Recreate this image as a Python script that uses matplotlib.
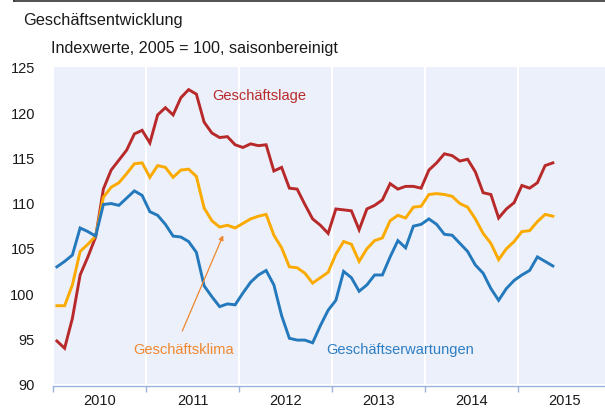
import matplotlib
matplotlib.use("Agg")
import matplotlib.pyplot as plt
import numpy as np
from matplotlib.lines import Line2D

plt.rcParams['font.family'] = ['Liberation Sans', 'DejaVu Sans']

# Monthly values, Jan 2010 .. May 2015
start_year = 2010
years = [2010, 2011, 2012, 2013, 2014, 2015]
year_labels = ['2010', '2011', '2012', '2013', '2014', '2015']
yticks = [90, 95, 100, 105, 110, 115, 120, 125]

geschaeftslage = [
    94.7, 93.9, 97.2, 102.0, 104.0, 106.2, 111.5, 113.6, 114.7, 115.8, 117.6, 118.0,
    116.6, 119.7, 120.5, 119.7, 121.6, 122.5, 122.0, 118.9, 117.7, 117.2, 117.3, 116.4,
    116.1, 116.5, 116.3, 116.4, 113.5, 113.9, 111.6, 111.5, 109.8, 108.2, 107.5, 106.6,
    109.3, 109.2, 109.1, 107.0, 109.3, 109.7, 110.3, 112.1, 111.5, 111.8, 111.8, 111.6,
    113.6, 114.4, 115.4, 115.2, 114.6, 114.8, 113.4, 111.1, 110.9, 108.3, 109.3, 110.0,
    111.9, 111.6, 112.2, 114.1, 114.4,
]
geschaeftsklima = [
    98.6, 98.6, 100.9, 104.6, 105.4, 106.3, 110.6, 111.7, 112.2, 113.2, 114.3, 114.4,
    112.8, 114.1, 113.9, 112.8, 113.6, 113.7, 112.9, 109.4, 108.0, 107.3, 107.5, 107.2,
    107.7, 108.2, 108.5, 108.7, 106.4, 105.0, 102.9, 102.8, 102.2, 101.1, 101.7, 102.3,
    104.3, 105.7, 105.4, 103.5, 104.9, 105.8, 106.1, 108.0, 108.6, 108.3, 109.5, 109.6,
    110.9, 111.0, 110.9, 110.7, 109.9, 109.5, 108.2, 106.6, 105.5, 103.7, 104.9, 105.7,
    106.8, 106.9, 107.9, 108.7, 108.5,
]
geschaeftserwartungen = [
    102.9, 103.5, 104.2, 107.2, 106.8, 106.3, 109.8, 109.9, 109.7, 110.5, 111.3, 110.8,
    109.0, 108.6, 107.6, 106.3, 106.2, 105.7, 104.5, 100.8, 99.6, 98.5, 98.8, 98.7,
    100.0, 101.2, 102.0, 102.5, 100.9, 97.5, 95.0, 94.8, 94.8, 94.5, 96.4, 98.1,
    99.2, 102.4, 101.7, 100.2, 100.9, 102.0, 102.0, 104.0, 105.8, 105.0, 107.4, 107.6,
    108.2, 107.6, 106.5, 106.4, 105.5, 104.6, 103.1, 102.2, 100.5, 99.2, 100.5, 101.4,
    102.0, 102.5, 104.0, 103.5, 103.0,
]

c_red = '#B8292A'
c_orange = '#FBAA00'
c_blue = '#2479BD'
c_orange_txt = '#F0872E'
c_blue_txt = '#2D7EC4'
band = '#ECF0FA'
axis_col = '#9DB2DE'

W, H = 605, 410
fig = plt.figure(figsize=(W / 100, H / 100), dpi=100)

left, right = 53, 611
top, bottom = 68, 384.5
ax = fig.add_axes([left / W, 1 - bottom / H, (right - left) / W, (bottom - top) / H])
ax.set_facecolor('white')
ax.set_xlim(2010, 2016)
ax.set_ylim(90, 125)

for y in years:
    ax.axvspan(y + 0.008, y + 1 - 0.008, color=band, lw=0, zorder=0)

x = start_year + (np.arange(len(geschaeftslage)) + 0.5) / 12.0
ax.plot(x, geschaeftslage, color=c_red, lw=2.1, zorder=3, solid_joinstyle='miter')
ax.plot(x, geschaeftsklima, color=c_orange, lw=2.1, zorder=3, solid_joinstyle='miter')
ax.plot(x, geschaeftserwartungen, color=c_blue, lw=2.1, zorder=3, solid_joinstyle='miter')

for s in ['top', 'right', 'left']:
    ax.spines[s].set_visible(False)
ax.spines['bottom'].set_color(axis_col)
ax.spines['bottom'].set_linewidth(1.0)
ax.spines['bottom'].set_position(('outward', 1.5))

ax.set_yticks(yticks)
ax.set_yticklabels([str(v) for v in yticks], fontsize=10.5, color='#1a1a1a')
ax.tick_params(axis='y', length=0, pad=13)

ax.set_xticks(list(range(2010, 2016)))
ax.set_xticklabels([])
ax.tick_params(axis='x', which='major', length=4, color=axis_col, width=1.0, direction='out')
ax.set_xticks([y + 0.5 for y in years], minor=True)
ax.set_xticklabels(year_labels, minor=True, fontsize=10.5, color='#1a1a1a')
ax.tick_params(axis='x', which='minor', length=0, pad=5)

ax.text(2011.71, 121.9, 'Geschäftslage', color=c_red, fontsize=10.5, ha='left', va='center')
ax.text(2010.86, 93.8, 'Geschäftsklima', color=c_orange_txt, fontsize=10.5, ha='left', va='center')
ax.text(2012.935, 93.8, 'Geschäftserwartungen', color=c_blue_txt, fontsize=10.5, ha='left', va='center')
ax.annotate('', xy=(2011.83, 106.4), xytext=(2011.39, 95.8),
            arrowprops=dict(arrowstyle='-|>', color=c_orange_txt, lw=0.9,
                            mutation_scale=7, shrinkA=0, shrinkB=0))

fig.text(23 / W, 1 - 20 / H, 'Geschäftsentwicklung', fontsize=11.8, color='#1a1a1a',
         ha='left', va='center')
fig.text(51 / W, 1 - 48 / H, 'Indexwerte, 2005 = 100, saisonbereinigt', fontsize=11.6,
         color='#1a1a1a', ha='left', va='center')
fig.add_artist(Line2D([14 / W, 1.0], [1 - 2 / H, 1 - 2 / H], color='#333333', lw=1.2))
fig.add_artist(Line2D([14 / W, 14 / W], [1.0, 1 - 2 / H], color='#333333', lw=1.2))

fig.savefig('out.png', dpi=100)
